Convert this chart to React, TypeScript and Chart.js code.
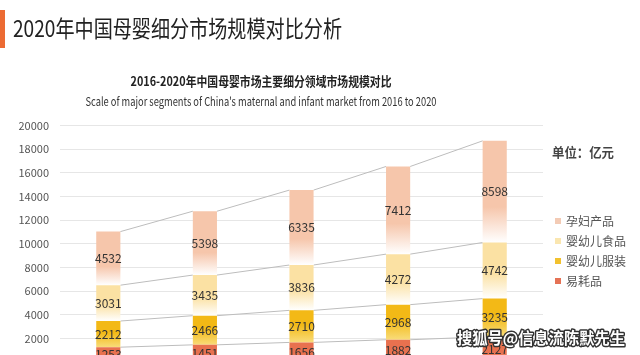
import React, { useEffect, useRef } from "react";
import { Chart, registerables } from "chart.js";

Chart.register(...registerables);

const years = ["2016", "2017", "2018", "2019", "2020"];
const consumables = [1253, 1451, 1656, 1882, 2127];
const clothing = [2212, 2466, 2710, 2968, 3235];
const food = [3031, 3435, 3836, 4272, 4742];
const maternity = [4532, 5398, 6335, 7412, 8598];
const seriesNames = ["易耗品", "婴幼儿服装", "婴幼儿食品", "孕妇产品"];
const yMax = 20000;
const yStep = 2000;

const pageTitle = "2020年中国母婴细分市场规模对比分析";
const chartTitle = "2016-2020年中国母婴市场主要细分领域市场规模对比";
const chartSubtitle =
  "Scale of major segments of China's maternal and infant market from 2016 to 2020";
const unitLabel = "单位：亿元";
const watermark = "搜狐号@信息流陈默先生";

const FONT = "'Noto Sans CJK SC', 'Noto Sans', sans-serif";

const palette = [
  { top: "#e8714f", bottom: "#ee8e70", stop: 0.6, legend: "#e57255" },
  { top: "#f3b916", bottom: "#f8dc7a", stop: 0.45, legend: "#f2c12e" },
  { top: "#fbe1a3", bottom: "#ffffff", stop: 0.55, legend: "#fae6b0" },
  { top: "#f6c6ab", bottom: "#ffffff", stop: 0.65, legend: "#f3cbb5" },
];

function gradientFor(idx: number) {
  const p = palette[idx];
  return (ctx: any) => {
    const chart = ctx.chart;
    const y = chart.scales && chart.scales.y;
    if (!chart.chartArea || !y || ctx.type !== "data") return p.top;
    const i = ctx.dataIndex;
    let base = 0;
    for (let d = 0; d < ctx.datasetIndex; d++) base += chart.data.datasets[d].data[i] as number;
    const end = base + (chart.data.datasets[ctx.datasetIndex].data[i] as number);
    const yTop = y.getPixelForValue(end);
    const yBot = y.getPixelForValue(base);
    if (!isFinite(yTop) || !isFinite(yBot) || yTop === yBot) return p.top;
    const g = chart.ctx.createLinearGradient(0, yTop, 0, yBot);
    g.addColorStop(0, p.top);
    g.addColorStop(p.stop, p.top);
    g.addColorStop(1, p.bottom);
    return g;
  };
}

const decorPlugin = {
  id: "decor",
  beforeDatasetsDraw(chart: any) {
    const ctx = chart.ctx;
    ctx.save();
    ctx.strokeStyle = "#bdbdbd";
    ctx.lineWidth = 1;
    chart.data.datasets.forEach((_: any, d: number) => {
      const meta = chart.getDatasetMeta(d);
      for (let i = 0; i < meta.data.length - 1; i++) {
        const a = meta.data[i].getProps(["x", "y", "width"], true);
        const b = meta.data[i + 1].getProps(["x", "y", "width"], true);
        ctx.beginPath();
        ctx.moveTo(a.x + a.width / 2, a.y);
        ctx.lineTo(b.x - b.width / 2, b.y);
        ctx.stroke();
      }
    });
    ctx.restore();
  },
  afterDatasetsDraw(chart: any) {
    const ctx = chart.ctx;
    ctx.save();
    ctx.font = `12px ${FONT}`;
    ctx.fillStyle = "#333";
    ctx.textAlign = "center";
    ctx.textBaseline = "middle";
    chart.data.datasets.forEach((ds: any, d: number) => {
      const meta = chart.getDatasetMeta(d);
      meta.data.forEach((el: any, i: number) => {
        const p = el.getProps(["x", "y", "base"], true);
        ctx.fillText(String(ds.data[i]), p.x, (p.y + p.base) / 2);
      });
    });
    ctx.restore();
  },
  afterDraw(chart: any) {
    const ctx = chart.ctx;
    ctx.save();
    // accent bar
    ctx.fillStyle = "#ec6b33";
    ctx.fillRect(0, 10, 5, 38);
    // page title
    ctx.fillStyle = "#222";
    ctx.textBaseline = "middle";
    ctx.textAlign = "left";
    ctx.font = `23px ${FONT}`;
    ctx.fillText(pageTitle, 13, 28, 329);
    // chart titles
    ctx.textAlign = "center";
    ctx.fillStyle = "#222";
    ctx.font = `bold 13px ${FONT}`;
    ctx.fillText(chartTitle, 261, 81, 261);
    ctx.fillStyle = "#333";
    ctx.font = `12px ${FONT}`;
    ctx.fillText(chartSubtitle, 261, 101, 351);
    // unit
    ctx.textAlign = "left";
    ctx.fillStyle = "#444";
    ctx.font = `bold 13px ${FONT}`;
    ctx.fillText(unitLabel, 552, 152, 62);
    // legend (top series first)
    ctx.font = `12px ${FONT}`;
    const order = [3, 2, 1, 0];
    order.forEach((d, k) => {
      const yy = 221 + k * 20;
      ctx.fillStyle = palette[d].legend;
      ctx.fillRect(555, yy - 3, 6, 6);
      ctx.fillStyle = "#555";
      ctx.fillText(seriesNames[d], 566, yy);
    });
    // watermark
    ctx.font = `bold 16px ${FONT}`;
    ctx.lineWidth = 3;
    ctx.strokeStyle = "#333";
    ctx.fillStyle = "#fff";
    ctx.lineJoin = "round";
    ctx.strokeText(watermark, 457, 338, 168);
    ctx.fillText(watermark, 457, 338, 168);
    ctx.restore();
  },
};

export default function App() {
  const ref = useRef<HTMLCanvasElement>(null);
  useEffect(() => {
    if (!ref.current) return;
    const series = [consumables, clothing, food, maternity];
    const chart = new Chart(ref.current, {
      type: "bar",
      data: {
        labels: years,
        datasets: series.map((data, i) => ({
          label: seriesNames[i],
          data,
          backgroundColor: gradientFor(i),
          borderWidth: 0,
          barPercentage: 0.5,
          categoryPercentage: 0.5,
        })),
      },
      options: {
        animation: false,
        responsive: true,
        maintainAspectRatio: false,
        layout: { padding: { top: 125.5, right: 97, bottom: 8, left: 0 } },
        plugins: {
          legend: { display: false },
          title: { display: false },
          tooltip: { enabled: false },
        },
        scales: {
          x: {
            stacked: true,
            grid: { display: false, drawTicks: false },
            border: { display: false },
            ticks: { color: "#555", font: { size: 11, family: FONT } },
            afterFit: (s: any) => {
              s.height = 20;
            },
          },
          y: {
            stacked: true,
            min: 0,
            max: yMax,
            grid: { color: "#e6e6e6", drawTicks: false },
            border: { display: false },
            ticks: {
              stepSize: yStep,
              padding: 11,
              color: "#555",
              font: { size: 11, family: FONT },
              callback: (v: any) => String(v),
            },
            afterFit: (s: any) => {
              s.width = 60;
            },
          },
        },
      },
      plugins: [decorPlugin],
    });
    return () => chart.destroy();
  }, []);

  return (
    <div
      style={{
        position: "fixed",
        top: 0,
        left: 0,
        width: 640,
        height: 355,
        overflow: "hidden",
        background: "#fff",
      }}
    >
      <div style={{ position: "relative", width: 640, height: 390 }}>
        <canvas ref={ref} />
      </div>
    </div>
  );
}
